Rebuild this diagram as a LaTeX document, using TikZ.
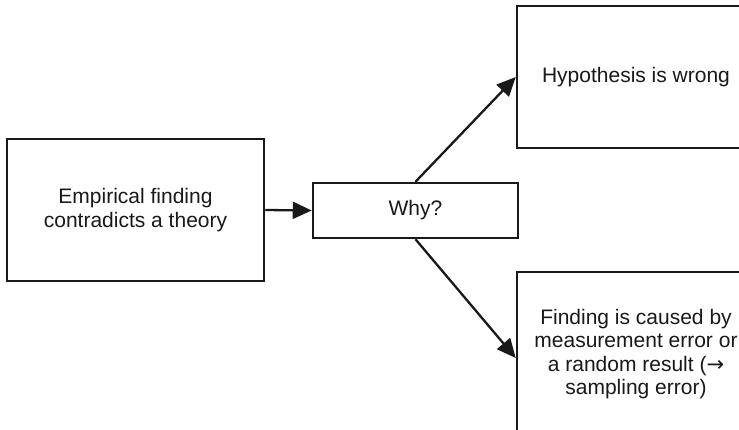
\documentclass[tikz,border=0pt]{standalone}
\usepackage{fontspec}
\setmainfont{Liberation Sans}
\newfontfamily\arrowfont{DejaVu Sans}
\usetikzlibrary{arrows.meta}
\begin{document}
\begin{tikzpicture}[x=1pt,y=-1pt,
  box/.style={draw=black!90,line width=2.5pt,fill=white,align=center,
    inner sep=0pt,font=\fontsize{21}{23.5}\selectfont,text=black!90},
  link/.style={draw=black!90,line width=2.3pt,
    -{Triangle[length=19pt,width=17pt]}}]
\useasboundingbox (0,0) rectangle (739,429);
\clip (0,0) rectangle (739,429);

\node[box,minimum width=257pt,minimum height=142pt] (finding) at (135.5,210)
  {Empirical finding\\contradicts a theory};
\node[box,minimum width=205pt,minimum height=55pt] (why) at (415.5,210.5)
  {Why?};
\node[box,minimum width=238pt,minimum height=142pt] (wrong) at (636,77)
  {Hypothesis is wrong};
\node[box,minimum width=238pt,minimum height=164pt] (error) at (636,354)
  {Finding is caused by\\measurement error or\\a random result ({\arrowfont →}\\sampling error)};

\draw[link] (finding.east) -- (why.west);
\draw[link] (why.north) -- (wrong.west);
\draw[link] (why.south) -- ([yshift=-4pt]error.west);
\end{tikzpicture}
\end{document}
